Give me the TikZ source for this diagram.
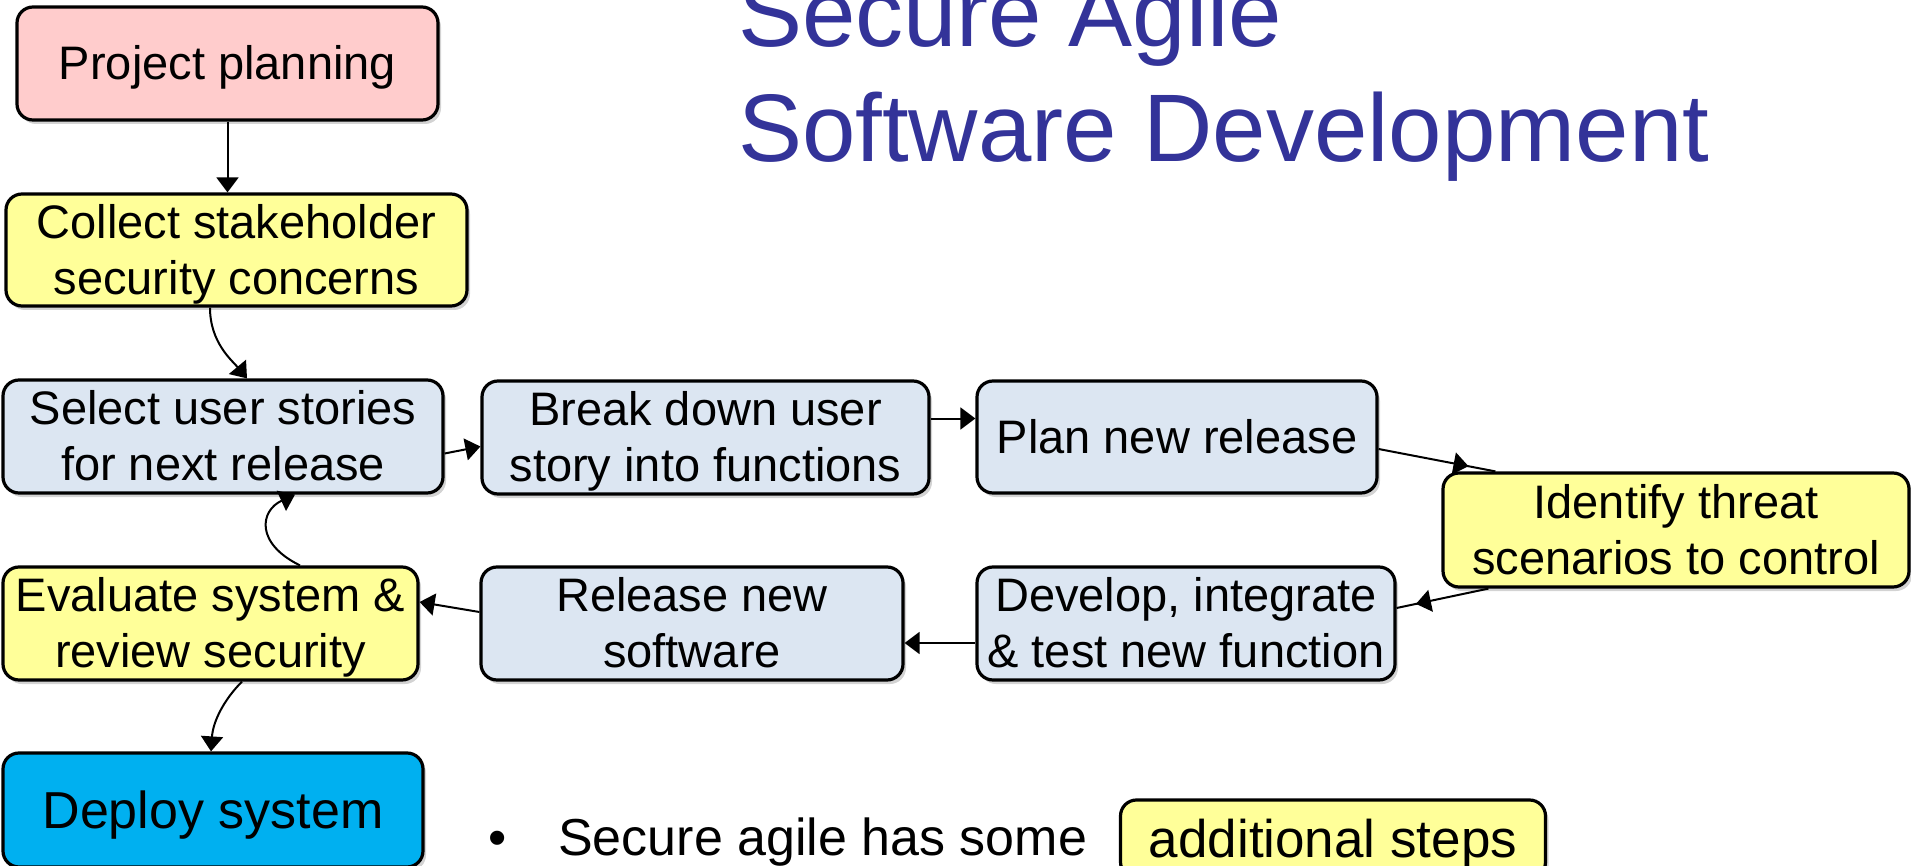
\documentclass[tikz,border=0pt]{standalone}
\usepackage{fontspec}
\setmainfont{Liberation Sans}
\usetikzlibrary{arrows.meta,shadows,decorations.markings}
\definecolor{pinkfill}{HTML}{FFCCCC}
\definecolor{yelfill}{HTML}{FFFF99}
\definecolor{bluefill}{HTML}{DCE6F2}
\definecolor{cyanfill}{HTML}{00B0F0}
\definecolor{titleblue}{HTML}{333399}
\newcommand\bxs{\rule[-10pt]{0pt}{52.5pt}}
\begin{document}
\begin{tikzpicture}[x=1pt,y=-1pt,
  box/.style={draw=black, line width=3.2pt, rounded corners=16pt, inner sep=0pt, align=center,
    font=\fontsize{47}{56}\selectfont,
    drop shadow={shadow xshift=3pt, shadow yshift=-4pt, opacity=0.35}},
  conn/.style={line width=2pt, -{Triangle[length=15pt,width=22pt]}},
  lnk/.style={line width=2pt},
  midtip/.style={postaction={decorate}, decoration={markings, mark=at position #1 with {\arrow{Triangle[length=15pt,width=22pt]}}}},
  titletext/.style={anchor=base west, inner sep=0pt, text=titleblue, font=\fontsize{96}{115}\selectfont},
  bodytext/.style={inner sep=0pt, font=\fontsize{52}{62}\selectfont}]
\useasboundingbox (0,0) rectangle (1911,866);

\node[titletext] (t1) at (738,47) {Secure Agile};
\node[titletext] (t2) at (738,162) {Software Development};

\node[box, fill=pinkfill, minimum width=421pt, minimum height=113pt] (pp) at (227.5,63.5) {\bxs Project planning};
\node[box, fill=yelfill, minimum width=461pt, minimum height=112pt] (collect) at (236.5,250) {\bxs Collect stakeholder\\\bxs security concerns};
\node[box, fill=bluefill, minimum width=440pt, minimum height=113pt] (select) at (223,436.5) {\bxs Select user stories\\\bxs for next release};
\node[box, fill=bluefill, minimum width=447pt, minimum height=113pt] (break) at (705.5,437.5) {\bxs Break down user\\\bxs story into functions};
\node[box, fill=bluefill, minimum width=400pt, minimum height=112pt] (plan) at (1177,437) {\bxs Plan new release};
\node[box, fill=yelfill, minimum width=466pt, minimum height=114pt] (identify) at (1676,530) {\bxs Identify threat\\\bxs scenarios to control};
\node[box, fill=bluefill, minimum width=418pt, minimum height=113pt] (develop) at (1186,623.5) {\bxs Develop, integrate\\\bxs \& test new function};
\node[box, fill=bluefill, minimum width=422pt, minimum height=113pt] (release) at (692,623.5) {\bxs Release new\\\bxs software};
\node[box, fill=yelfill, minimum width=415pt, minimum height=113pt] (evaluate) at (210.5,623.5) {\bxs Evaluate system \&\\\bxs review security};
\node[box, fill=cyanfill, minimum width=420pt, minimum height=114pt, font=\fontsize{52}{62}\selectfont] (deploy) at (213,810) {\rule[-11pt]{0pt}{58pt}Deploy system};
\node[box, fill=yelfill, minimum width=425pt, minimum height=78pt, font=\fontsize{53}{64}\selectfont] (extra) at (1333,839) {\rule[-11.2pt]{0pt}{59.2pt}additional steps};

\node[bodytext, anchor=base] (bullet) at (498,855) {•};
\node[bodytext, anchor=base west] (note) at (558,855) {Secure agile has some};

\draw[conn] (pp.south) -- (pp.south |- collect.north);
\draw[conn] ([xshift=-26.5pt]collect.south) .. controls +(0,35) and +(-15,-18) .. ([xshift=24pt]select.north);
\draw[conn] ([yshift=-17pt]select.east) -- ([yshift=-9pt]break.west);
\draw[conn] ([yshift=19pt]break.east) -- ([yshift=19pt]break.east -| plan.west);
\draw[lnk, midtip=0.77] ([yshift=-12pt]plan.east) -- ([xshift=54pt]identify.north west);
\draw[lnk, midtip=0.79] ([xshift=47pt]identify.south west) -- ([yshift=15.5pt]develop.east);
\draw[conn] ([yshift=-19.5pt]develop.west) -- ([yshift=-19.5pt]develop.west -| release.east);
\draw[conn] ([yshift=11.5pt]release.west) -- ([yshift=21.5pt]evaluate.east);
\draw[conn] ([xshift=89.5pt]evaluate.north) .. controls +(-45,-22) and +(-35,16) .. ([xshift=72pt]select.south);
\draw[conn] ([xshift=31.5pt]evaluate.south) .. controls +(-18,18) and +(2,-30) .. ([xshift=-2pt]deploy.north);
\end{tikzpicture}
\end{document}
